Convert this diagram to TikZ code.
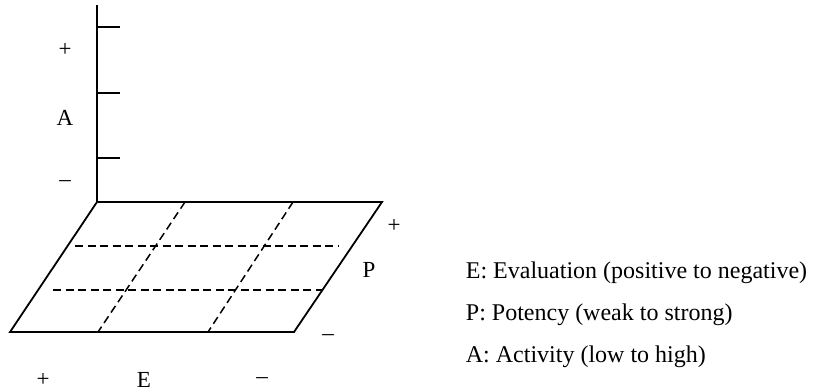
\documentclass[tikz,border=0pt]{standalone}
\usepackage{fontspec}
\setmainfont{Liberation Serif}
\begin{document}
\begin{tikzpicture}[x=1pt,y=-1pt,line width=1.8pt,
  grid/.style={line width=1.5pt,dash pattern=on 8pt off 4.5pt},
  lbl/.style={font=\fontsize{23}{27}\selectfont,inner sep=0pt},
  key/.style={font=\fontsize{24}{28}\selectfont,inner sep=0pt,anchor=base west}]
\useasboundingbox (0,0) rectangle (813,391);
% plane corners
\coordinate (o) at (97,202);
\coordinate (tr) at (382,202);
\coordinate (br) at (294,332);
\coordinate (bl) at (10,332);
% vertical axis with ticks
\draw (97,5)--(o);
\foreach \y in {27,93,158} \draw (97,\y)--(120,\y);
\draw[line join=miter] (o)--(tr)--(br)--(bl)--cycle;
% dashed grid
\draw[grid] (75,246)--(338,246);
\draw[grid] (53,290)--(323,290);
\draw[grid] (185,202)--(98,332);
\draw[grid] (293,202)--(208,332);
% axis labels
\node[lbl] (aplus) at (65,50) {+};
\node[lbl] (alab) at (65,118) {A};
\node[lbl] (aminus) at (65,184) {--};
\node[lbl] (pplus) at (394,226) {+};
\node[lbl] (plab) at (369,270) {P};
\node[lbl] (pminus) at (328,338) {--};
\node[lbl] (eplus) at (43,380) {+};
\node[lbl] (elab) at (144,380) {E};
\node[lbl] (eminus) at (262,381) {--};
% legend
\node[key] (keye) at (465,278) {E: Evaluation (positive to negative)};
\node[key] (keyp) at (465,320) {P: Potency (weak to strong)};
\node[key] (keya) at (465,362) {A: Activity (low to high)};
\end{tikzpicture}
\end{document}
